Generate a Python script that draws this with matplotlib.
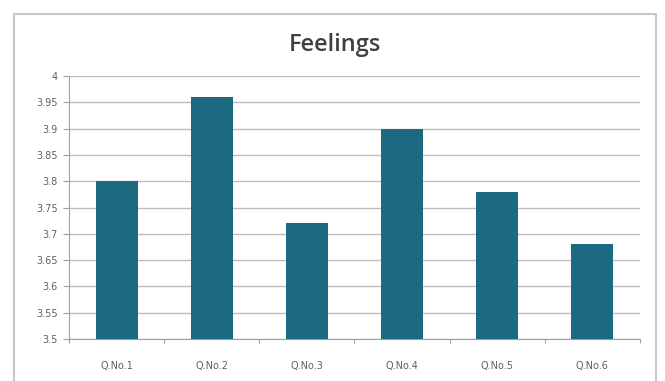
import matplotlib.pyplot as plt
import numpy as np
from matplotlib.patches import Rectangle

# survey results per question
questions = ['Q.No.1', 'Q.No.2', 'Q.No.3', 'Q.No.4', 'Q.No.5', 'Q.No.6']
scores = [3.80, 3.96, 3.72, 3.90, 3.78, 3.68]
yticks = [3.5, 3.55, 3.6, 3.65, 3.7, 3.75, 3.8, 3.85, 3.9, 3.95, 4]

fig = plt.figure(figsize=(6.65, 3.81), dpi=100)
fig.patch.set_facecolor('white')

# outer chart frame (runs past the bottom edge)
fig.patches.append(Rectangle((14 / 665, -20 / 381), 642 / 665, 387 / 381,
                             transform=fig.transFigure, fill=False,
                             edgecolor='#c8c8c8', linewidth=1.5))

ax = fig.add_axes([69 / 665, 1 - 339 / 381, 571 / 665, 263 / 381])
x = np.arange(len(questions))
ax.bar(x, scores, width=0.44, color='#1b6a82', zorder=3)

ax.set_xlim(-0.5, len(questions) - 0.5)
ax.set_ylim(3.5, 4)
ax.set_yticks(yticks)
ax.set_yticklabels([f'{v:g}' for v in yticks], fontsize=7, color='#606060')
ax.yaxis.grid(True, color='#bdbdbd', linewidth=1, zorder=0)

# category ticks sit between the bars
ax.set_xticks(np.arange(len(questions) + 1) - 0.5)
ax.set_xticklabels([])
ax.set_xticks(x, minor=True)
ax.set_xticklabels(questions, minor=True, fontsize=7, color='#606060')
ax.tick_params(axis='x', which='minor', length=0, pad=16)
ax.tick_params(axis='x', which='major', length=3, color='#a0a0a0')
ax.tick_params(axis='y', length=4, color='#a0a0a0', pad=4)

for side in ['top', 'right']:
    ax.spines[side].set_visible(False)
for side in ['left', 'bottom']:
    ax.spines[side].set_color('#a0a0a0')

fig.text(335 / 665, 1 - 45 / 381, 'Feelings', ha='center', va='center',
         fontsize=17, fontweight='semibold', color='#404040', family='Open Sans')

fig.savefig('out.png', dpi=100)
